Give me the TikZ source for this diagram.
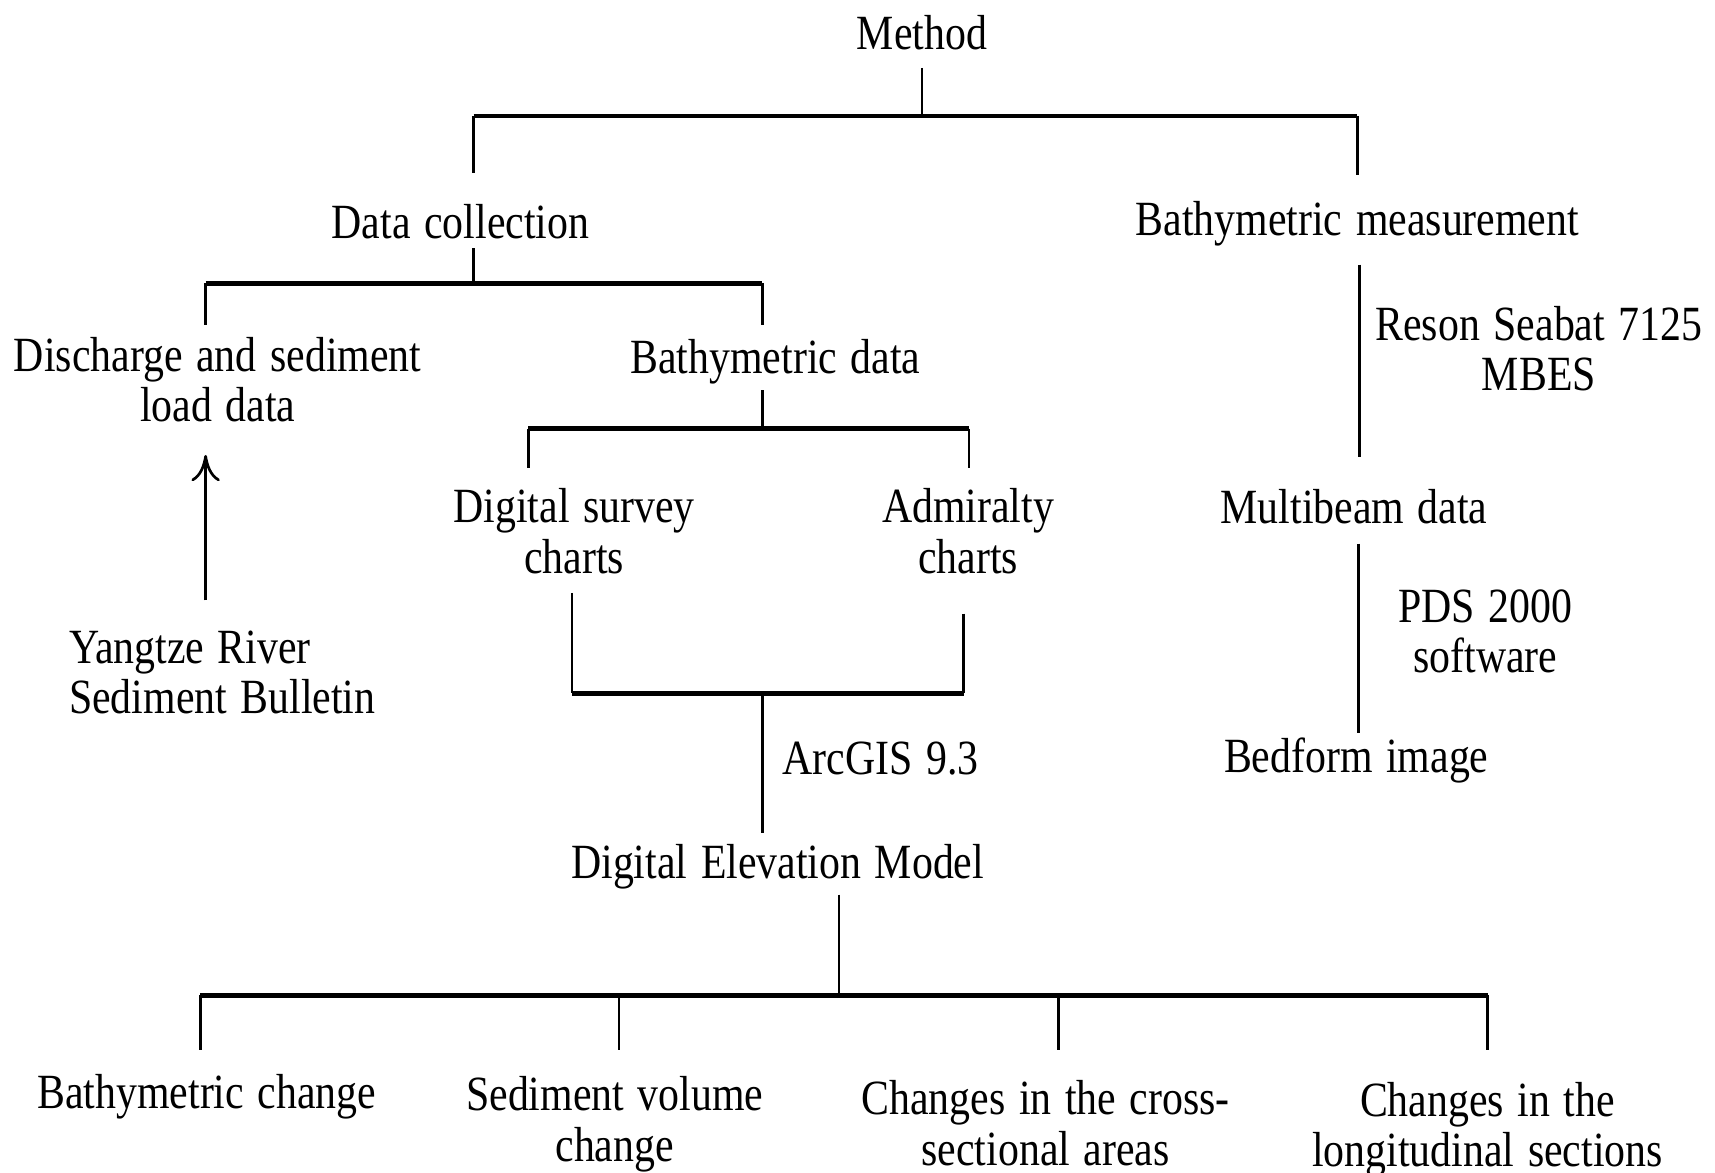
\documentclass[tikz,border=0pt]{standalone}
\usepackage{fontspec}
\setmainfont{Liberation Serif}[FakeStretch=0.85,WordSpace=1.3]
\usetikzlibrary{arrows.meta}
\tikzset{
  >={To[length=2.4mm,width=2.6mm]},
  lbl/.style={font=\fontsize{12.8}{13.1}\selectfont,align=center,inner sep=1pt},
  stem/.style={line width=0.7pt},
  bar/.style={line width=1.2pt},
}
\begin{document}
\begin{tikzpicture}
  \useasboundingbox (0,0) rectangle (15.68,10.72);
  % labels
  \node[lbl] (method) at (8.43,10.42) {Method};
  \node[lbl] (datacol) at (4.21,8.69) {Data collection};
  \node[lbl] (bathmeas) at (12.41,8.67) {Bathymetric measurement};
  \node[lbl] (discharge) at (1.99,7.25) {Discharge and sediment\\load data};
  \node[lbl] (bathdata) at (7.09,7.41) {Bathymetric data};
  \node[lbl] (reson) at (14.07,7.53) {Reson Seabat 7125\\MBES};
  \node[lbl] (survey) at (5.25,5.865) {Digital survey\\charts};
  \node[lbl] (admiralty) at (8.85,5.865) {Admiralty\\charts};
  \node[lbl] (multibeam) at (12.38,6.09) {Multibeam data};
  \node[lbl,align=left,anchor=west] (yangtze) at (0.59,4.57) {Yangtze River\\Sediment Bulletin};
  \node[lbl] (pds) at (13.58,4.945) {PDS 2000\\software};
  \node[lbl] (arcgis) at (8.05,3.785) {ArcGIS 9.3};
  \node[lbl] (bedform) at (12.40,3.77) {Bedform image};
  \node[lbl] (dem) at (7.11,2.795) {Digital Elevation Model};
  \node[lbl] (bathchange) at (1.89,0.69) {Bathymetric change};
  \node[lbl] (sedvol) at (5.62,0.44) {Sediment volume\\change};
  \node[lbl] (cross) at (9.56,0.45) {Changes in the cross-\\sectional areas};
  \node[lbl] (longi) at (13.60,0.39) {Changes in the\\longitudinal sections};
  % line ends
  \coordinate (method-s) at (8.43,10.10);
  \coordinate (j-method) at (8.43,9.66);
  \coordinate (datacol-n) at (4.33,9.14);
  \coordinate (bathmeas-n) at (12.41,9.12);
  \coordinate (datacol-s) at (4.33,8.45);
  \coordinate (j-datacol) at (4.33,8.13);
  \coordinate (discharge-n) at (1.88,7.75);
  \coordinate (bathdata-n) at (6.97,7.75);
  \coordinate (bathdata-s) at (6.97,7.15);
  \coordinate (j-bathdata) at (6.97,6.80);
  \coordinate (survey-n) at (4.83,6.44);
  \coordinate (admiralty-n) at (8.86,6.44);
  \coordinate (yangtze-n) at (1.88,5.23);
  \coordinate (discharge-s) at (1.88,6.56);
  \coordinate (survey-s) at (5.23,5.30);
  \coordinate (admiralty-s) at (8.81,5.11);
  \coordinate (j-charts) at (6.97,4.38);
  \coordinate (dem-n) at (6.97,3.10);
  \coordinate (dem-s) at (7.67,2.54);
  \coordinate (j-dem) at (7.67,1.62);
  \coordinate (bathmeas-s) at (12.43,8.30);
  \coordinate (multibeam-n) at (12.43,6.54);
  \coordinate (multibeam-s) at (12.42,5.75);
  \coordinate (bedform-n) at (12.42,4.02);
  % method
  \draw[stem] (method-s) -- (j-method);
  \draw[bar] (datacol-n |- j-method) -- (bathmeas-n |- j-method);
  \draw[stem] (datacol-n |- j-method) -- (datacol-n);
  \draw[stem] (bathmeas-n |- j-method) -- (bathmeas-n);
  % data collection
  \draw[stem] (datacol-s) -- (j-datacol);
  \draw[bar] (discharge-n |- j-datacol) -- (bathdata-n |- j-datacol);
  \draw[stem] (discharge-n |- j-datacol) -- (discharge-n);
  \draw[stem] (bathdata-n |- j-datacol) -- (bathdata-n);
  \draw[stem,->] (yangtze-n) -- (discharge-s);
  % bathymetric data
  \draw[stem] (bathdata-s) -- (j-bathdata);
  \draw[bar] (survey-n |- j-bathdata) -- (admiralty-n |- j-bathdata);
  \draw[stem] (survey-n |- j-bathdata) -- (survey-n);
  \draw[stem] (admiralty-n |- j-bathdata) -- (admiralty-n);
  % charts to DEM
  \draw[stem] (survey-s) -- (survey-s |- j-charts);
  \draw[stem] (admiralty-s) -- (admiralty-s |- j-charts);
  \draw[bar] (survey-s |- j-charts) -- (admiralty-s |- j-charts);
  \draw[stem] (j-charts) -- (dem-n);
  % DEM outputs
  \draw[stem] (dem-s) -- (j-dem);
  \draw[bar] (1.83,1.62) -- (13.60,1.62);
  \foreach \x in {1.83,5.66,9.68,13.60}
    \draw[stem] (\x,1.62) -- (\x,1.12);
  % multibeam
  \draw[stem] (bathmeas-s) -- (multibeam-n);
  \draw[stem] (multibeam-s) -- (bedform-n);
\end{tikzpicture}
\end{document}
